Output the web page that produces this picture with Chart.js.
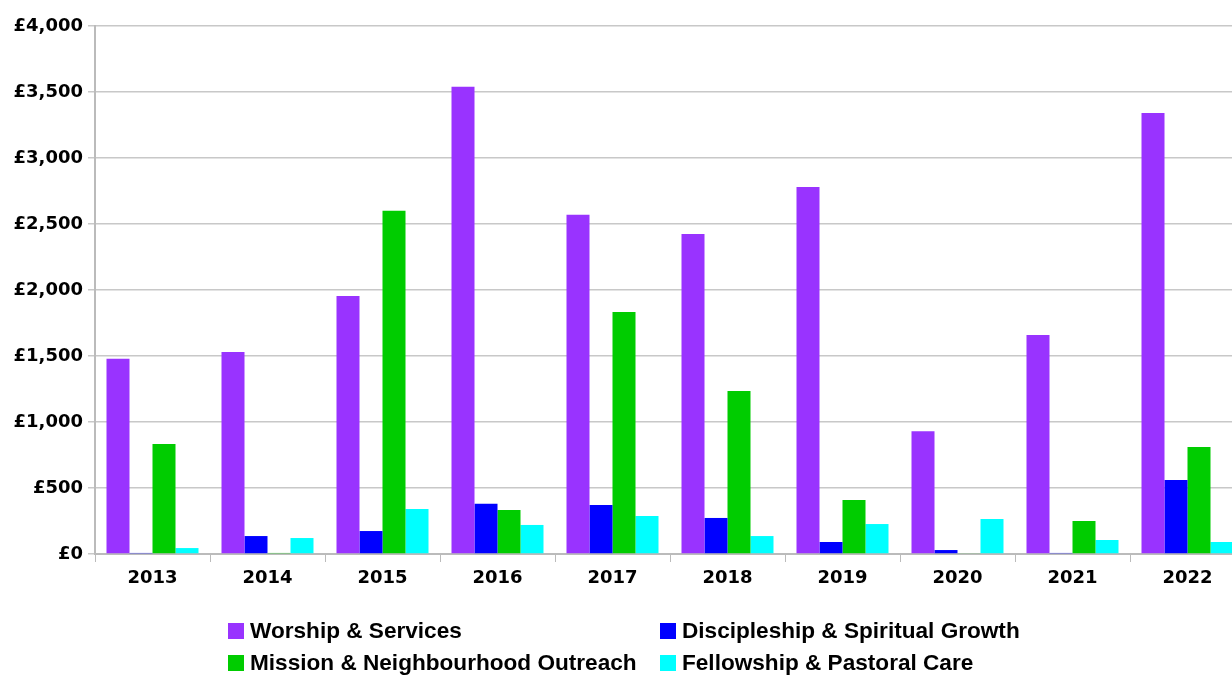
<!DOCTYPE html>
<html>
<head>
<meta charset="utf-8">
<script src="https://cdn.jsdelivr.net/npm/chart.js@4"></script>
<style>
  html, body { margin: 0; padding: 0; background: #fff; overflow: hidden; }
  #wrap { position: relative; width: 1245px; height: 675px; }
  #legend {
    position: absolute; left: 228px; top: 618px;
    display: grid; grid-template-columns: 432px 400px; row-gap: 6px;
    font-family: 'Liberation Sans', sans-serif;
    font-weight: bold; font-size: 22.6px; color: #000;
  }
  .item { display: flex; align-items: center; height: 26px; white-space: nowrap; }
  .box { width: 16px; height: 16px; margin-right: 6px; }
</style>
</head>
<body>
<div id="wrap">
  <canvas id="spend" width="1245" height="675"></canvas>
  <div id="legend"></div>
</div>
<script>
var years = ['2013', '2014', '2015', '2016', '2017', '2018', '2019', '2020', '2021', '2022'];
var worship = [1480, 1530, 1955, 3540, 2570, 2425, 2780, 930, 1660, 3340];
var discipleship = [8, 136, 174, 380, 372, 273, 91, 30, 8, 560];
var mission = [833, 8, 2600, 333, 1833, 1235, 409, 5, 250, 811];
var fellowship = [45, 121, 341, 220, 288, 136, 227, 265, 106, 91];
var seriesNames = ['Worship & Services', 'Discipleship & Spiritual Growth', 'Mission & Neighbourhood Outreach', 'Fellowship & Pastoral Care'];
var seriesColors = ['#9933ff', '#0000ff', '#00cc00', '#00ffff'];

Chart.defaults.font.family = 'DejaVu Sans';
Chart.defaults.color = '#000';

var ctx = document.getElementById('spend');
var myChart = new Chart(ctx, {
    type: 'bar',
    data: {
        labels: years,
        datasets: [worship, discipleship, mission, fellowship].map(function (d, i) {
            return {
                label: seriesNames[i],
                data: d,
                backgroundColor: seriesColors[i],
                borderWidth: 0,
                categoryPercentage: 0.8,
                barPercentage: 1.0
            };
        })
    },
    options: {
        responsive: false,
        animation: false,
        layout: {
            padding: { top: 26, bottom: 81, left: 0, right: 0 }
        },
        plugins: {
            legend: { display: false },
            tooltip: { enabled: false }
        },
        scales: {
            x: {
                grid: {
                    offset: true,
                    drawOnChartArea: false,
                    color: '#bbb',
                    tickLength: 8
                },
                border: { color: '#bbb', width: 2 },
                ticks: {
                    font: { size: 18, weight: 'bold' },
                    padding: 6
                },
                afterFit: function (scale) { scale.height = 40; }
            },
            y: {
                min: 0,
                max: 4000,
                ticks: {
                    stepSize: 500,
                    padding: 5,
                    font: { size: 18, weight: 'bold' },
                    callback: function (v) { return '£' + v.toLocaleString('en-GB'); }
                },
                grid: {
                    color: '#c8c8c8',
                    lineWidth: 1.5,
                    tickLength: 7
                },
                border: { color: '#bbb', width: 2 },
                afterFit: function (scale) { scale.width = 95; }
            }
        }
    }
});

var legend = document.getElementById('legend');
[0, 1, 2, 3].forEach(function (i) {
    var item = document.createElement('div');
    item.className = 'item';
    var box = document.createElement('span');
    box.className = 'box';
    box.style.background = seriesColors[i];
    item.appendChild(box);
    item.appendChild(document.createTextNode(seriesNames[i]));
    legend.appendChild(item);
});
</script>
</body>
</html>
